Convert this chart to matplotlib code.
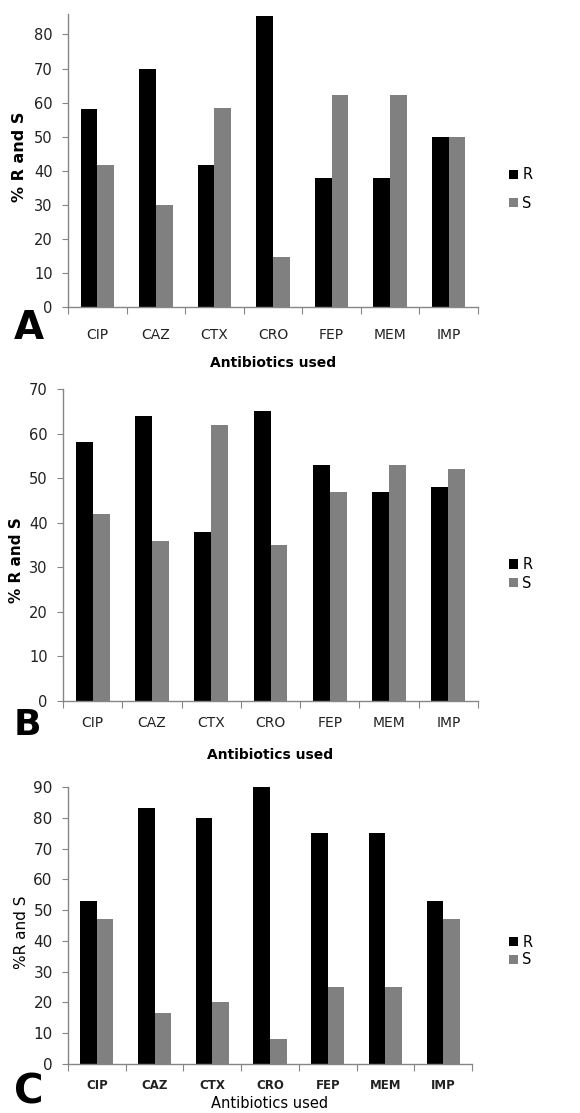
import matplotlib
matplotlib.use("Agg")
import matplotlib.pyplot as plt
import numpy as np

categories = ["CIP", "CAZ", "CTX", "CRO", "FEP", "MEM", "IMP"]

r_a = [58, 70, 41.7, 85.3, 37.8, 37.8, 50]
s_a = [41.7, 30, 58.3, 14.7, 62.2, 62.2, 50]

r_b = [58, 64, 38, 65, 53, 47, 48]
s_b = [42, 36, 62, 35, 47, 53, 52]

r_c = [53, 83.3, 80, 90, 75, 75, 53]
s_c = [47, 16.7, 20, 8, 25, 25, 47]

W, H = 580, 1113
fig = plt.figure(figsize=(W / 100, H / 100), dpi=100)
plt.rcParams['font.family'] = ['DejaVu Sans']

R_COL = "#000000"
S_COL = "#808080"
AX_COL = "#868686"


def panel(left, right, y0, ytop, ymax, ytick_max, r, s, letter, letter_xy, letter_fs,
          ylab, ylab_xy, ylab_bold, ylab_fs, xlab_y, xlab_bold, leg_y, leg_sp,
          ytick_fs, xtick_fs, xtick_bold, xpad):
    ax = fig.add_axes([left / W, (H - y0) / H, (right - left) / W, (y0 - ytop) / H])
    x = np.arange(len(categories))
    bw = 0.286
    b1 = ax.bar(x - bw / 2, r, bw, color=R_COL, label="R")
    b2 = ax.bar(x + bw / 2, s, bw, color=S_COL, label="S")
    ax.set_xlim(-0.5, len(categories) - 0.5)
    ax.set_ylim(0, ymax)
    ax.set_yticks(np.arange(0, ytick_max + 0.01, 10))
    for sp in ["top", "right"]:
        ax.spines[sp].set_visible(False)
    for sp in ["left", "bottom"]:
        ax.spines[sp].set_color(AX_COL)
        ax.spines[sp].set_linewidth(1.0)
    ax.set_xticks(np.arange(-0.5, len(categories)), labels=[""] * (len(categories) + 1))
    ax.set_xticks(x, labels=categories, minor=True)
    ax.tick_params(axis="x", which="major", length=5, color=AX_COL, direction="out")
    ax.tick_params(axis="x", which="minor", length=0, pad=xpad, labelsize=xtick_fs,
                   labelcolor="#222222")
    ax.tick_params(axis="y", length=4, color=AX_COL, pad=7, labelsize=ytick_fs,
                   labelcolor="#222222")
    if xtick_bold:
        for t in ax.get_xticklabels(minor=True):
            t.set_fontweight("bold")
    fig.text(letter_xy[0] / W, 1 - letter_xy[1] / H, letter, fontsize=letter_fs,
             fontweight="bold", ha="left", va="center")
    fig.text(ylab_xy[0] / W, 1 - ylab_xy[1] / H, ylab, rotation=90,
             fontsize=ylab_fs, fontweight="bold" if ylab_bold else "normal",
             ha="center", va="center")
    fig.text(((left + right) / 2) / W, 1 - xlab_y / H, "Antibiotics used",
             fontsize=10 if xlab_bold else 10.5,
             fontweight="bold" if xlab_bold else "normal",
             ha="center", va="center")
    fig.legend(handles=[b1, b2], labels=["R", "S"], loc="center left",
               bbox_to_anchor=(496 / W, 1 - leg_y / H), frameon=False,
               handlelength=0.6, handleheight=0.6, handletextpad=0.3,
               labelspacing=leg_sp, fontsize=10.5)
    return ax


panel(68, 478, 307, 14, 86, 80, r_a, s_a, "A", (14, 328), 28, "% R and S", (20, 157),
      True, 11.5, 363, True, 189, 0.9, 10.5, 10, False, 15)

panel(63, 478, 701, 389, 70, 70, r_b, s_b, "B", (14, 725), 26, "% R and S", (17, 560),
      True, 11, 755, True, 574, 0.25, 10.5, 10, False, 11)

panel(68, 472, 1064, 787, 90, 90, r_c, s_c, "C", (14, 1092), 29, "%R and S", (22, 932),
      False, 11, 1104, False, 951, 0.2, 11, 8.5, True, 11)

fig.savefig("out.png", dpi=100, facecolor="white")
